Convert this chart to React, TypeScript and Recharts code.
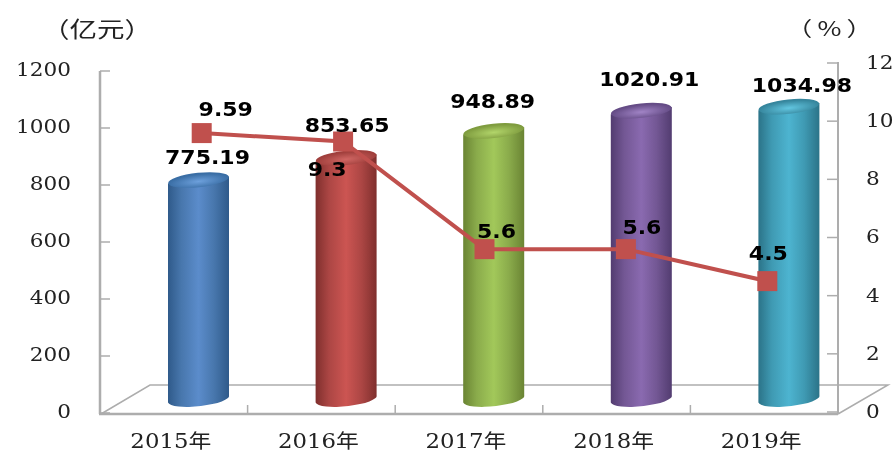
import React from "react";
import { ComposedChart, Bar, Line, XAxis, YAxis, LabelList } from "recharts";

const years = ["2015年", "2016年", "2017年", "2018年", "2019年"];
const amounts = [775.19, 853.65, 948.89, 1020.91, 1034.98];
const rates = [9.59, 9.3, 5.6, 5.6, 4.5];
const rateLabels = ["9.59", "9.3", "5.6", "5.6", "4.5"];
const leftTicks = [0, 200, 400, 600, 800, 1000, 1200];
const rightTicks = [0, 2, 4, 6, 8, 10, 12];

const barColors = [
  { edge: "#2f5a8a", side: "#4877ad", mid: "#5b8ccb", cap: "#3a6ea5", glow: "#6da0dc" },
  { edge: "#7f2f2d", side: "#ac4644", mid: "#cc5552", cap: "#a03f3c", glow: "#d06663" },
  { edge: "#6a8433", side: "#8aab4b", mid: "#a2c85a", cap: "#7f9c3f", glow: "#b2d56a" },
  { edge: "#523c70", side: "#735794", mid: "#8a6ab0", cap: "#654c86", glow: "#a184c6" },
  { edge: "#2b7388", side: "#3f9ab3", mid: "#4db4d0", cap: "#36869d", glow: "#62c6e0" },
];
const amountLabelOffsets = [
  { dx: 9, dy: -23 },
  { dx: 1, dy: -33 },
  { dx: -1, dy: -30 },
  { dx: 8, dy: -32 },
  { dx: 13, dy: -22 },
];
const rateLabelOffsets = [
  { dx: 24, dy: -24 },
  { dx: -16, dy: 27 },
  { dx: 12, dy: -18 },
  { dx: 16, dy: -22 },
  { dx: 1, dy: -28 },
];

const data = years.map((year, i) => ({ year, amount: amounts[i], rate: rates[i], rateLabel: rateLabels[i] }));

const GREY = "#adadad";
const INK = "#222";
const SERIF = "'DejaVu Serif', serif";
const BOLD = "'DejaVu Sans', sans-serif";

function Cylinder(props: any) {
  const { x, y, width, height, index } = props;
  const c = barColors[index];
  const rx = width / 2;
  const cx = x + rx;
  const ry = 7.2;
  const tilt = 3.6;
  const bottom = y + height;
  const body = `M${x},${y + tilt} L${x},${bottom + tilt} A${rx},${ry} -6 0 0 ${x + width},${bottom - tilt} L${x + width},${y - tilt} Z`;
  return (
    <g>
      <defs>
        <linearGradient id={`body${index}`} x1="0" x2="1" y1="0" y2="0">
          <stop offset="0" stopColor={c.edge} />
          <stop offset="0.22" stopColor={c.side} />
          <stop offset="0.5" stopColor={c.mid} />
          <stop offset="0.75" stopColor={c.side} />
          <stop offset="1" stopColor={c.edge} />
        </linearGradient>
        <radialGradient id={`cap${index}`} cx="0.5" cy="0.6" r="0.5">
          <stop offset="0" stopColor={c.glow} />
          <stop offset="1" stopColor={c.cap} />
        </radialGradient>
      </defs>
      <path d={body} fill={`url(#body${index})`} />
      <ellipse cx={cx} cy={y} rx={rx} ry={ry} transform={`rotate(-6 ${cx} ${y})`} fill={`url(#cap${index})`} />
    </g>
  );
}

function SquareDot(props: any) {
  const { cx, cy, index } = props;
  return <rect key={index} x={cx - 10} y={cy - 10} width={20} height={20} fill="#c0504d" />;
}

function StretchedLabel({ x, y, text, scale = 1.1 }: any) {
  return (
    <text
      transform={`translate(${x},${y}) scale(${scale},1)`}
      textAnchor="middle"
      dominantBaseline="central"
      fontFamily={BOLD}
      fontWeight="bold"
      fontSize={20}
      fill="#000"
    >
      {text}
    </text>
  );
}

function AmountLabel(props: any) {
  const { x, y, width, value, index } = props;
  const o = amountLabelOffsets[index];
  return <StretchedLabel x={x + width / 2 + o.dx} y={y + o.dy} text={value} />;
}

function RateLabel(props: any) {
  const { x, y, value, index } = props;
  const o = rateLabelOffsets[index];
  return <StretchedLabel x={x + o.dx} y={y + o.dy} text={value} />;
}

function LeftTick(props: any) {
  const { y, payload } = props;
  return (
    <g>
      <line x1={100} x2={110} y1={y} y2={y} stroke={GREY} strokeWidth={1.5} />
      <text
        transform={`translate(71,${y - 1}) scale(1.2,1)`}
        textAnchor="end"
        dominantBaseline="central"
        fontFamily={SERIF}
        fontSize={18}
        fill={INK}
      >
        {payload.value}
      </text>
    </g>
  );
}

function RightTick(props: any) {
  const { y, payload } = props;
  return (
    <g>
      <line x1={827} x2={838} y1={y} y2={y} stroke={GREY} strokeWidth={1.5} />
      <text
        transform={`translate(866,${y}) scale(1.2,1)`}
        textAnchor="start"
        dominantBaseline="central"
        fontFamily={SERIF}
        fontSize={18}
        fill={INK}
      >
        {payload.value}
      </text>
    </g>
  );
}

function YearTick(props: any) {
  const { x, payload, index } = props;
  const boundary = x + 73.8;
  return (
    <g>
      {index < 4 && <line x1={boundary} x2={boundary} y1={405} y2={414} stroke={GREY} strokeWidth={1.5} />}
      <text
        transform={`translate(${x - 3},441) scale(1.17,1)`}
        textAnchor="middle"
        dominantBaseline="central"
        fontFamily="'DejaVu Serif', 'Noto Sans CJK SC', serif"
        fontSize={19.5}
        fill={INK}
      >
        {payload.value}
      </text>
    </g>
  );
}

export default function App() {
  return (
    <div style={{ position: "absolute", left: 0, top: 0, width: 893, height: 450, filter: "blur(0.45px)" }}>
      <ComposedChart
        width={893}
        height={450}
        data={data}
        margin={{ left: 0, right: 0, top: 60, bottom: 0 }}
      >
        <XAxis
          xAxisId="main"
          dataKey="year"
          height={36}
          padding={{ left: 0, right: 50 }}
          axisLine={false}
          tickLine={false}
          interval={0}
          tick={YearTick}
        />
        <XAxis xAxisId="bars" dataKey="year" hide height={0} padding={{ left: 25, right: 25 }} />
        <XAxis xAxisId="points" dataKey="year" hide height={0} padding={{ left: 31, right: 50 }} />
        <YAxis
          yAxisId="left"
          width={100}
          domain={[0, 1200]}
          ticks={leftTicks}
          padding={{ top: 11, bottom: 1 }}
          axisLine={false}
          tickLine={false}
          interval={0}
          tick={LeftTick}
        />
        <YAxis yAxisId="barScale" hide width={0} domain={[0, 1200]} padding={{ top: 0, bottom: 15 }} />
        <YAxis
          yAxisId="right"
          orientation="right"
          width={5}
          domain={[0, 12]}
          ticks={rightTicks}
          padding={{ top: 3, bottom: 2 }}
          axisLine={false}
          tickLine={false}
          interval={0}
          tick={RightTick}
        />
        <g fill="none" stroke={GREY}>
          <polyline points="101,414 150,385 888,385 838,414" strokeWidth={1.5} />
          <line x1={100} x2={100} y1={71} y2={414} strokeWidth={2.5} />
          <line x1={838} x2={838} y1={62} y2={414} strokeWidth={2} />
          <line x1={99} x2={838} y1={414} y2={414} strokeWidth={2.5} />
        </g>
        <text
          transform="translate(97,27) scale(1.25,1)"
          textAnchor="middle"
          dominantBaseline="central"
          fontFamily="'Noto Sans CJK SC'"
          fontSize={22}
          fill={INK}
        >
          （亿元）
        </text>
        <text
          transform="translate(832,27) scale(1.3,1)"
          textAnchor="middle"
          dominantBaseline="central"
          fontFamily="'Noto Sans CJK SC'"
          fontSize={20}
          letterSpacing={4}
          fill={INK}
        >
          （%）
        </text>
        <Line
          xAxisId="main"
          yAxisId="left"
          dataKey="amount"
          stroke="none"
          dot={false}
          activeDot={false}
          legendType="none"
          isAnimationActive={false}
        />
        <Bar
          xAxisId="bars"
          yAxisId="barScale"
          dataKey="amount"
          barSize={61}
          shape={Cylinder}
          isAnimationActive={false}
        >
          <LabelList dataKey="amount" content={AmountLabel} />
        </Bar>
        <Line
          xAxisId="points"
          yAxisId="right"
          dataKey="rate"
          stroke="#c0504d"
          strokeWidth={4}
          dot={SquareDot}
          activeDot={false}
          isAnimationActive={false}
        >
          <LabelList dataKey="rateLabel" content={RateLabel} />
        </Line>
      </ComposedChart>
    </div>
  );
}
